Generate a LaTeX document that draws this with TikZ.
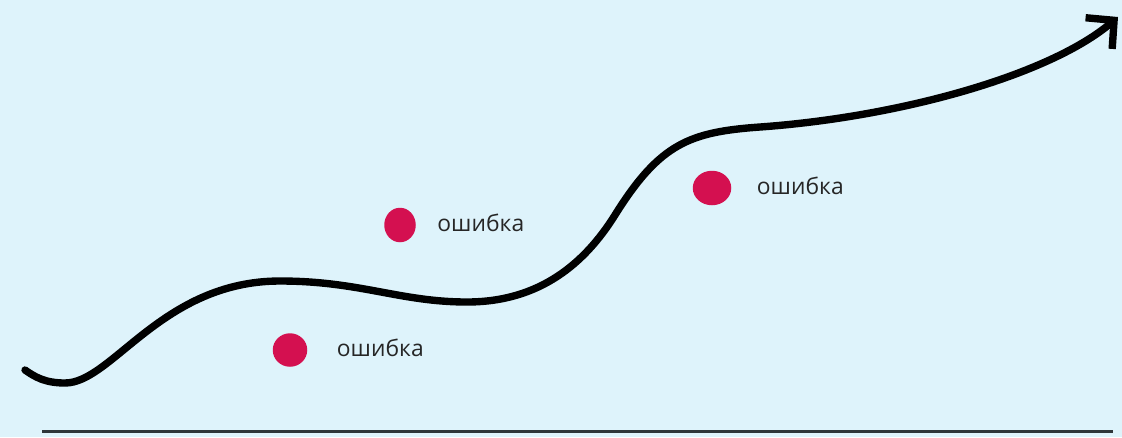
\documentclass[tikz,border=0pt]{standalone}
\usepackage{fontspec}
\usepackage{tikz}
\usetikzlibrary{arrows.meta}
\usetikzlibrary{positioning}
\usetikzlibrary{shapes.geometric}
\newfontfamily\labelfont{Open Sans}
\definecolor{bgblue}{RGB}{222,243,251}
\definecolor{errred}{RGB}{212,16,80}
\definecolor{axisgray}{RGB}{46,54,58}
\definecolor{textgray}{RGB}{38,38,38}

\begin{document}
\begin{tikzpicture}[x=0.02cm,y=-0.02cm,
  errdot/.style={ellipse,fill=errred,inner sep=0pt},
  errlabel/.style={font=\labelfont\fontsize{13}{15}\selectfont,
    text=textgray,inner sep=0pt,text height=7pt,text depth=0pt},
  trend/.style={line width=4.2pt,line cap=round,line join=round,
    -{Straight Barb[length=0.4cm,width=0.82cm]}},
  axisline/.style={line width=1.7pt,draw=axisgray}]
  \useasboundingbox
    (0,0)
    rectangle
    (1122,437);
  \fill[bgblue]
    (0,0)
    rectangle
    (1122,437);
  \coordinate (start) at (25,370);
  \coordinate (tip) at (1118,17);
  \coordinate (axisL) at (42,431);
  \coordinate (axisR) at (1113,431);
  \draw[axisline]
    (axisL)
    --
    (axisR);
  \draw[trend]
    (start)
    .. controls (35,377) and (45,383) .. (65,383)
    .. controls (112,383) and (162,281) .. (280,281)
    .. controls (360,281) and (400,302) .. (467,302)
    .. controls (540,302) and (585,263) .. (615,215)
    .. controls (660,143) and (690,132) .. (760,127)
    .. controls (900,117) and (1050,75) .. (tip);
  \node[errdot,minimum width=0.63cm,minimum height=0.69cm]
    (err1) at (400,225) {};
  \node[errdot,minimum width=0.69cm,minimum height=0.67cm]
    (err2) at (290,350) {};
  \node[errdot,minimum width=0.77cm,minimum height=0.69cm]
    (err3) at (712,188) {};
  \node[errlabel,right=0.42cm of err1] (lbl1) {ошибка};
  \node[errlabel,right=0.58cm of err2] (lbl2) {ошибка};
  \node[errlabel,right=0.5cm of err3] (lbl3) {ошибка};
\end{tikzpicture}
\end{document}
